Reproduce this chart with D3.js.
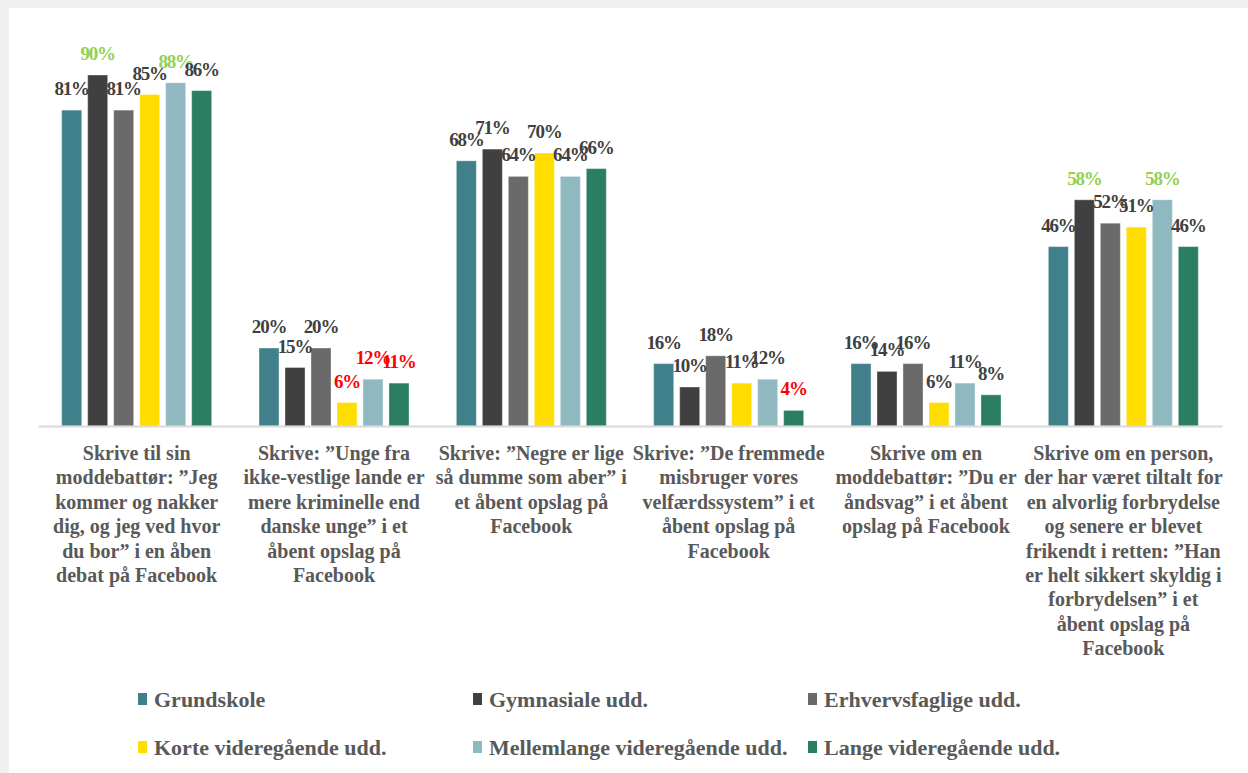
<!DOCTYPE html>
<html>
<head>
<meta charset="utf-8">
<script src="https://cdn.jsdelivr.net/npm/d3@7"></script>
<style>
  body { margin: 0; background: #f0f0ee; }
  svg { display: block; }
</style>
</head>
<body>
<svg id="chart" width="1248" height="773"></svg>
<script>
// categories, one array of lines per group
var categories = [
    ["Skrive til sin", "moddebattør: ”Jeg", "kommer og nakker", "dig, og jeg ved hvor", "du bor” i en åben", "debat på Facebook"],
    ["Skrive: ”Unge fra", "ikke-vestlige lande er", "mere kriminelle end", "danske unge” i et", "åbent opslag på", "Facebook"],
    ["Skrive: ”Negre er lige", "så dumme som aber” i", "et åbent opslag på", "Facebook"],
    ["Skrive: ”De fremmede", "misbruger vores", "velfærdssystem” i et", "åbent opslag på", "Facebook"],
    ["Skrive om en", "moddebattør: ”Du er", "åndsvag”  i et åbent", "opslag på Facebook"],
    ["Skrive om en person,", "der har været tiltalt for", "en alvorlig forbrydelse", "og senere er blevet", "frikendt i retten: ”Han", "er helt sikkert skyldig i", "forbrydelsen” i et", "åbent opslag på", "Facebook"]
];

var series = ["Grundskole", "Gymnasiale udd.", "Erhvervsfaglige udd.",
              "Korte videregående udd.", "Mellemlange videregående udd.", "Lange videregående udd."];

// values per category, in series order (percent)
var values = [
    [81, 90, 81, 85, 88, 86],
    [20, 15, 20, 6, 12, 11],
    [68, 71, 64, 70, 64, 66],
    [16, 10, 18, 11, 12, 4],
    [16, 14, 16, 6, 11, 8],
    [46, 58, 52, 51, 58, 46]
];

// marking of labels: h = high (green), l = low (red), "" = normal
var marks = [
    ["", "h", "", "", "h", ""],
    ["", "", "", "l", "l", "l"],
    ["", "", "", "", "", ""],
    ["", "", "", "", "", "l"],
    ["", "", "", "", "", ""],
    ["", "h", "", "", "h", ""]
];

var colors = ["#40808b", "#404040", "#6a6a6a", "#ffdd00", "#8fb8c0", "#2b7e62"];
var markColors = { "": "#404040", "h": "#92d050", "l": "#ff0000" };
var font = "'Times New Roman', 'Liberation Serif', 'DejaVu Serif', serif";

var svg = d3.select("#chart");

svg.append("rect")
    .attr("x", 9).attr("y", 8)
    .attr("width", 1239).attr("height", 765)
    .attr("fill", "#ffffff");

var idx = d3.range(categories.length);

var x0 = d3.scaleBand().domain(idx).range([38, 1222]).paddingInner(0.24).paddingOuter(0.12);
var x1 = d3.scaleBand().domain(d3.range(series.length)).range([0, x0.bandwidth()]).paddingInner(0.23);
var y = d3.scaleLinear().domain([0, 100]).range([426, 36]);

function rows(d) {
    return values[d].map(function (v, i) { return { v: v, i: i, m: marks[d][i] }; });
}

// bars
var groups = svg.append("g").selectAll("g")
    .data(idx)
    .join("g")
    .attr("transform", function (d) { return "translate(" + x0(d) + ",0)"; });

groups.selectAll("rect")
    .data(rows)
    .join("rect")
    .attr("x", function (d) { return x1(d.i); })
    .attr("y", function (d) { return y(d.v); })
    .attr("width", x1.bandwidth())
    .attr("height", function (d) { return y(0) - y(d.v); })
    .attr("fill", function (d) { return colors[d.i]; })
    .attr("stroke", "#ffffff")
    .attr("stroke-opacity", 0.35)
    .attr("stroke-width", 1);

groups.selectAll("text")
    .data(rows)
    .join("text")
    .attr("x", function (d) { return x1(d.i) + x1.bandwidth() / 2; })
    .attr("y", function (d) { return y(d.v) - 15; })
    .attr("text-anchor", "middle")
    .attr("font-family", font)
    .attr("font-weight", "bold")
    .attr("font-size", 19)
    .attr("letter-spacing", -1.2)
    .attr("fill", function (d) { return markColors[d.m]; })
    .text(function (d) { return d.v + "%"; });

// axis line
var xAxis = d3.axisBottom(x0).tickSize(0).tickFormat("");
var axisG = svg.append("g").attr("transform", "translate(0," + y(0) + ")").call(xAxis);
axisG.select(".domain").attr("stroke", "#d9d9d9").attr("stroke-width", 2);

// category labels
svg.append("g").selectAll("text")
    .data(idx)
    .join("text")
    .attr("text-anchor", "middle")
    .attr("font-family", font)
    .attr("font-weight", "bold")
    .attr("font-size", 20)
    .attr("fill", "#595959")
    .each(function (d) {
        var t = d3.select(this);
        categories[d].forEach(function (line, j) {
            t.append("tspan")
                .attr("x", x0(d) + x0.bandwidth() / 2)
                .attr("y", 460 + j * 24.4)
                .text(line);
        });
    });

// legend
var legend = svg.append("g").selectAll("g")
    .data(series)
    .join("g")
    .attr("transform", function (d, i) {
        return "translate(" + (138 + (i % 3) * 335) + "," + (693 + Math.floor(i / 3) * 48) + ")";
    });

legend.append("rect")
    .attr("width", 9).attr("height", 12)
    .attr("fill", function (d, i) { return colors[i]; });

legend.append("text")
    .attr("x", 16).attr("y", 14)
    .attr("font-family", font)
    .attr("font-weight", "bold")
    .attr("font-size", 22)
    .attr("fill", "#595959")
    .text(function (d) { return d; });
</script>
</body>
</html>
